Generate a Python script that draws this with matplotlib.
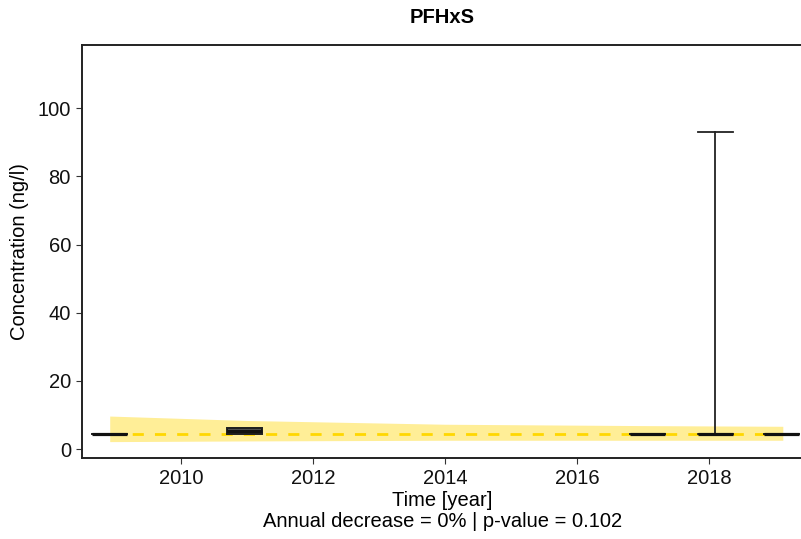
import matplotlib
matplotlib.use("Agg")
import matplotlib.pyplot as plt
import numpy as np

plt.rcParams['font.family'] = ['Liberation Sans', 'DejaVu Sans']

# Data
sample_time = [2008.92, 2010.96, 2017.07, 2018.10, 2019.10]
medians = [4.3, 5.2, 4.3, 4.3, 4.3]
q1 = [4.3, 4.4, 4.3, 4.3, 4.3]
q3 = [4.3, 6.1, 4.3, 4.3, 4.3]
whisk_lo = [4.3, 4.4, 4.3, 4.3, 4.3]
whisk_hi = [4.3, 6.1, 4.3, 93.0, 4.3]

trend_x = [2008.92, 2011.0, 2014.0, 2017.0, 2019.12]
trend_fit = [4.3, 4.3, 4.3, 4.3, 4.3]
band_lo = [2.2, 2.4, 2.6, 2.6, 2.6]
band_hi = [9.7, 8.4, 7.3, 6.9, 6.7]

x_ticks = [2010, 2012, 2014, 2016, 2018]
y_ticks = [0, 20, 40, 60, 80, 100]

fig = plt.figure(figsize=(8.01, 5.39), dpi=100)
ax = fig.add_axes([82/801, 1-458/539, 1-82/801+0.002, (458-45)/539])

ax.fill_between(trend_x, band_lo, band_hi, color='#FFEB85', alpha=0.85, lw=0, zorder=1)
ax.plot(trend_x, trend_fit, color='#FFD700', lw=2, ls=(0, (4, 4)), zorder=2)

stats = []
for i in range(len(sample_time)):
    stats.append(dict(med=medians[i], q1=q1[i], q3=q3[i], whislo=whisk_lo[i], whishi=whisk_hi[i], fliers=[]))
ax.bxp(stats, positions=sample_time, widths=0.53, showfliers=False, patch_artist=True,
       boxprops=dict(facecolor='#555555', edgecolor='#111111', lw=1.3),
       medianprops=dict(color='#111111', lw=2.3),
       whiskerprops=dict(color='#222222', lw=1.3),
       capprops=dict(color='#222222', lw=1.3),
       capwidths=0.53, manage_ticks=False, zorder=3)

ax.set_xlim(2008.5, 2019.42)
ax.set_ylim(-2.6, 118.5)
ax.set_xticks(x_ticks)
ax.set_xticklabels([str(t) for t in x_ticks])
ax.set_yticks(y_ticks)
ax.tick_params(labelsize=14.5, length=4, width=0.8, color='#333333', labelcolor='#111111', pad=4)
for s in ['left', 'bottom', 'top']:
    ax.spines[s].set_linewidth(1.4)
    ax.spines[s].set_color('#222222')
ax.spines['right'].set_visible(False)

ax.set_title('PFHxS', fontsize=14.5, fontweight='bold', pad=16)
ax.set_ylabel('Concentration (ng/l)', fontsize=14.5, labelpad=6)
ax.set_xlabel('Time [year]\nAnnual decrease = 0% | p-value = 0.102', fontsize=14.5, labelpad=2, linespacing=1.15)

fig.savefig('out.png', dpi=100)
